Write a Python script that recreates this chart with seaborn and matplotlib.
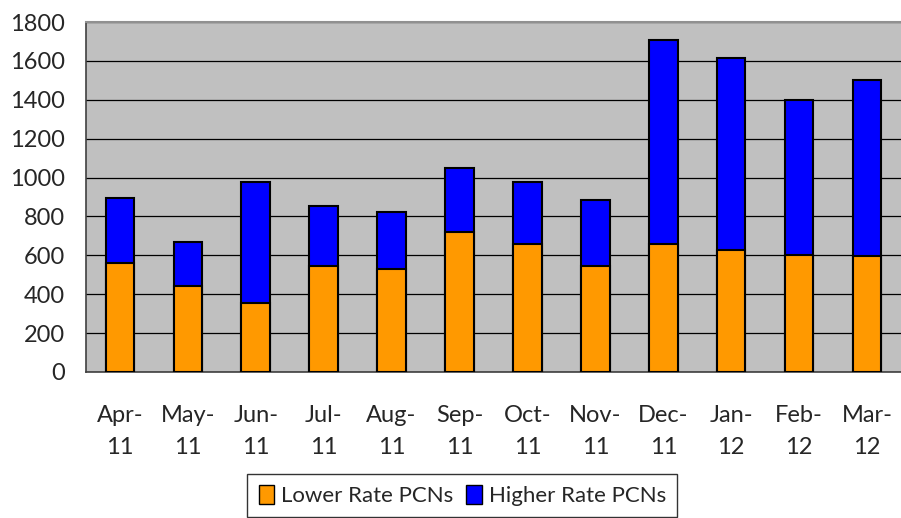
import matplotlib
matplotlib.use("Agg")
import matplotlib.pyplot as plt
from matplotlib.patches import Patch
import seaborn as sns
import pandas as pd

# Data
months = ["Apr-\n11", "May-\n11", "Jun-\n11", "Jul-\n11", "Aug-\n11", "Sep-\n11",
          "Oct-\n11", "Nov-\n11", "Dec-\n11", "Jan-\n12", "Feb-\n12", "Mar-\n12"]
lower_rate = [562, 441, 357, 543, 532, 718, 656, 543, 656, 625, 603, 594]
higher_rate = [331, 227, 619, 309, 291, 330, 320, 342, 1053, 991, 797, 909]

df = pd.DataFrame({"month": months, "lower": lower_rate, "higher": higher_rate})
df["total"] = df["lower"] + df["higher"]

sns.set_style("white")
plt.rcParams["font.family"] = ["Lato", "DejaVu Sans"]

fig = plt.figure(figsize=(9.01, 5.18), dpi=100)
ax = fig.add_axes([0.0954, 0.2819, 0.9046, 0.6756])
ax.set_facecolor("#c0c0c0")

# Stacked bars: total (blue) first, then lower (orange) over it
sns.barplot(data=df, x="month", y="total", color="#0000ff", width=0.42,
            edgecolor="black", linewidth=1.5, saturation=1, ax=ax, zorder=3)
sns.barplot(data=df, x="month", y="lower", color="#ff9900", width=0.42,
            edgecolor="black", linewidth=1.5, saturation=1, ax=ax, zorder=4)

ax.set_ylim(0, 1800)
ax.set_xlim(-0.5, len(months) - 0.5)
ax.set_yticks(range(0, 1801, 200))
ax.yaxis.grid(True, color="black", linewidth=0.9, zorder=1)
ax.set_axisbelow(True)

ax.set_xlabel("")
ax.set_ylabel("")
ax.set_xticks(range(len(months)))
ax.set_xticklabels(months, fontsize=17, linespacing=1.65)
ax.set_xticks([i - 0.5 for i in range(len(months) + 1)], minor=True)
ax.tick_params(axis="x", which="major", length=0, pad=24)
ax.tick_params(axis="x", which="minor", length=7, width=1, color="#404040",
               direction="out")
ax.tick_params(axis="y", labelsize=17, length=8, width=1, color="#404040",
               direction="out", pad=7)

for side in ["left", "bottom"]:
    ax.spines[side].set_color("#404040")
    ax.spines[side].set_linewidth(1.2)
ax.spines["top"].set_color("#909090")
ax.spines["top"].set_linewidth(1.5)
ax.spines["right"].set_visible(False)

handles = [Patch(facecolor="#ff9900", edgecolor="black", label="Lower Rate PCNs"),
           Patch(facecolor="#0000ff", edgecolor="black", label="Higher Rate PCNs")]
leg = fig.legend(handles=handles, loc="lower center", bbox_to_anchor=(0.513, -0.02),
                 ncol=2, fontsize=16, frameon=True, fancybox=False,
                 handlelength=0.7, handleheight=0.9, handletextpad=0.3,
                 columnspacing=0.6, borderpad=0.5)
leg.get_frame().set_edgecolor("black")
leg.get_frame().set_linewidth(1.0)

fig.savefig("out.png", dpi=100)
